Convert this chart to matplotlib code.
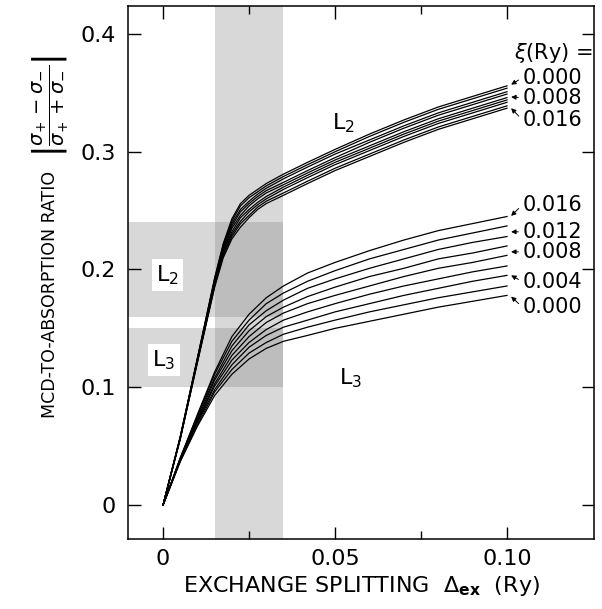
import matplotlib
matplotlib.use("Agg")
import matplotlib.pyplot as plt
from matplotlib.ticker import FixedLocator

# ---------------- data ----------------
xi_labels_L2 = ["0.000", "0.008", "0.016"]
xi_labels_L3 = ["0.016", "0.012", "0.008", "0.004", "0.000"]

x_L2 = [0, 0.005, 0.010, 0.015, 0.0175, 0.020, 0.0225, 0.025, 0.0275, 0.030, 0.035,
        0.042, 0.050, 0.060, 0.070, 0.080, 0.090, 0.100]
L2_xi000 = [0, 0.058, 0.125, 0.193, 0.222, 0.243, 0.256, 0.263, 0.268, 0.273, 0.281, 0.291, 0.302, 0.315, 0.327, 0.338, 0.347, 0.356]
L2_xi002 = [0, 0.058, 0.125, 0.192, 0.221, 0.241, 0.254, 0.261, 0.266, 0.271, 0.279, 0.289, 0.300, 0.313, 0.325, 0.336, 0.345, 0.354]
L2_xi004 = [0, 0.058, 0.124, 0.191, 0.219, 0.239, 0.251, 0.258, 0.264, 0.269, 0.277, 0.287, 0.298, 0.310, 0.322, 0.333, 0.342, 0.351]
L2_xi006 = [0, 0.057, 0.124, 0.190, 0.218, 0.237, 0.249, 0.256, 0.262, 0.267, 0.274, 0.284, 0.295, 0.308, 0.320, 0.331, 0.340, 0.349]
L2_xi008 = [0, 0.057, 0.123, 0.189, 0.216, 0.235, 0.246, 0.254, 0.260, 0.265, 0.272, 0.282, 0.293, 0.305, 0.317, 0.328, 0.337, 0.346]
L2_xi010 = [0, 0.057, 0.123, 0.188, 0.215, 0.232, 0.244, 0.251, 0.257, 0.262, 0.270, 0.280, 0.291, 0.303, 0.315, 0.326, 0.335, 0.344]
L2_xi012 = [0, 0.057, 0.122, 0.187, 0.213, 0.230, 0.241, 0.249, 0.255, 0.260, 0.268, 0.278, 0.289, 0.301, 0.313, 0.324, 0.333, 0.342]
L2_xi014 = [0, 0.056, 0.122, 0.186, 0.212, 0.228, 0.239, 0.246, 0.253, 0.258, 0.265, 0.275, 0.286, 0.298, 0.310, 0.321, 0.330, 0.339]
L2_xi016 = [0, 0.056, 0.121, 0.185, 0.210, 0.226, 0.236, 0.244, 0.251, 0.256, 0.263, 0.273, 0.284, 0.296, 0.308, 0.319, 0.328, 0.337]

x_L3 = [0, 0.005, 0.010, 0.015, 0.020, 0.025, 0.030, 0.035, 0.042, 0.050,
        0.060, 0.070, 0.080, 0.090, 0.100]
L3_xi000 = [0, 0.037, 0.067, 0.093, 0.111, 0.124, 0.133, 0.139, 0.144, 0.150, 0.156, 0.162, 0.168, 0.173, 0.178]
L3_xi002 = [0, 0.037, 0.068, 0.096, 0.115, 0.129, 0.138, 0.145, 0.151, 0.157, 0.164, 0.170, 0.176, 0.181, 0.186]
L3_xi004 = [0, 0.038, 0.070, 0.098, 0.119, 0.134, 0.144, 0.151, 0.157, 0.164, 0.171, 0.178, 0.184, 0.190, 0.195]
L3_xi006 = [0, 0.038, 0.071, 0.101, 0.123, 0.138, 0.149, 0.157, 0.164, 0.171, 0.179, 0.186, 0.192, 0.198, 0.203]
L3_xi008 = [0, 0.039, 0.072, 0.103, 0.127, 0.143, 0.155, 0.163, 0.171, 0.178, 0.186, 0.194, 0.201, 0.206, 0.212]
L3_xi010 = [0, 0.039, 0.073, 0.106, 0.131, 0.148, 0.160, 0.168, 0.177, 0.185, 0.194, 0.201, 0.209, 0.214, 0.220]
L3_xi012 = [0, 0.039, 0.075, 0.108, 0.135, 0.153, 0.165, 0.174, 0.184, 0.192, 0.201, 0.209, 0.217, 0.223, 0.228]
L3_xi014 = [0, 0.040, 0.076, 0.111, 0.139, 0.157, 0.171, 0.180, 0.190, 0.199, 0.209, 0.217, 0.225, 0.231, 0.237]
L3_xi016 = [0, 0.040, 0.077, 0.113, 0.143, 0.162, 0.176, 0.186, 0.197, 0.206, 0.216, 0.225, 0.233, 0.239, 0.245]

L2_series = [L2_xi000, L2_xi002, L2_xi004, L2_xi006, L2_xi008, L2_xi010, L2_xi012, L2_xi014, L2_xi016]
L3_series = [L3_xi000, L3_xi002, L3_xi004, L3_xi006, L3_xi008, L3_xi010, L3_xi012, L3_xi014, L3_xi016]

x_ticks = [0, 0.05, 0.10]
x_tick_labels = ["0", "0.05", "0.10"]
y_ticks = [0, 0.1, 0.2, 0.3, 0.4]
y_tick_labels = ["0", "0.1", "0.2", "0.3", "0.4"]

# shaded ranges
band_x = (0.015, 0.035)
band_L2 = (0.16, 0.24)
band_L3 = (0.10, 0.15)

# ---------------- figure ----------------
plt.rcParams['font.family'] = ['DejaVu Sans']
fig = plt.figure(figsize=(6.02, 6.09), dpi=100)
ax = fig.add_axes([128/602, 70/609, (594-128)/602, (603-70)/609])
xmin, xmax = -0.0102, 0.1253
ymin, ymax = -0.0289, 0.4238
ax.set_xlim(xmin, xmax)
ax.set_ylim(ymin, ymax)

shade = (0.5, 0.5, 0.5)
ax.axvspan(band_x[0], band_x[1], color=shade, alpha=0.3, lw=0, zorder=0)
ax.fill_between([xmin, band_x[1]], band_L2[0], band_L2[1], color=shade, alpha=0.3, lw=0, zorder=0)
ax.fill_between([xmin, band_x[1]], band_L3[0], band_L3[1], color=shade, alpha=0.3, lw=0, zorder=0)

for ys in L2_series:
    ax.plot(x_L2, ys, color='black', lw=0.9, zorder=3)
for ys in L3_series:
    ax.plot(x_L3, ys, color='black', lw=0.9, zorder=3)

# labels inside bands
box = dict(facecolor='white', edgecolor='none', pad=3)
ax.text(0.0012, 0.195, r"L$_2$", fontsize=16, ha='center', va='center', bbox=box, zorder=4)
ax.text(0.0002, 0.123, r"L$_3$", fontsize=16, ha='center', va='center', bbox=box, zorder=4)
ax.text(0.0523, 0.324, r"L$_2$", fontsize=16, ha='center', va='center', zorder=4)
ax.text(0.0544, 0.108, r"L$_3$", fontsize=16, ha='center', va='center', zorder=4)

ax.text(0.1135, 0.384, r"$\xi$(Ry) =", fontsize=15, ha='center', va='center')

arrow = dict(arrowstyle='-|>', color='black', lw=0.7, mutation_scale=7, shrinkA=1, shrinkB=0)
txt_x = 0.1045
L2_text_y = [0.363, 0.346, 0.327]
L2_tip_y = [0.357, 0.3465, 0.337]
for lab, ty, tip in zip(xi_labels_L2, L2_text_y, L2_tip_y):
    ax.annotate(lab, xy=(0.1012, tip), xytext=(txt_x, ty), fontsize=15,
                ha='left', va='center', arrowprops=dict(arrow, relpos=(0, 0.5)))
L3_text_y = [0.255, 0.232, 0.215, 0.1897, 0.168]
L3_tip_y = [0.2455, 0.232, 0.215, 0.195, 0.177]
for lab, ty, tip in zip(xi_labels_L3, L3_text_y, L3_tip_y):
    ax.annotate(lab, xy=(0.1012, tip), xytext=(txt_x, ty), fontsize=15,
                ha='left', va='center', arrowprops=dict(arrow, relpos=(0, 0.5)))

# ticks
ax.xaxis.set_major_locator(FixedLocator(x_ticks))
ax.set_xticklabels(x_tick_labels)
ax.xaxis.set_minor_locator(FixedLocator([0.025, 0.075]))
ax.yaxis.set_major_locator(FixedLocator(y_ticks))
ax.set_yticklabels(y_tick_labels)
ax.tick_params(axis='both', which='both', direction='in', top=True, right=True,
               labelsize=16, width=1.0)
ax.tick_params(axis='x', which='major', length=9, pad=7)
ax.tick_params(axis='x', which='minor', length=6)
ax.tick_params(axis='y', which='major', length=9, pad=9)
for s in ax.spines.values():
    s.set_linewidth(1.1)

ax.set_xlabel(r"EXCHANGE SPLITTING  $\Delta_{\mathbf{ex}}$  (Ry)", fontsize=16, labelpad=4)

fig.text(50/602, 1 - 294/609, "MCD-TO-ABSORPTION RATIO", rotation=90, fontsize=12.5,
         ha='center', va='center')
fig.text(50/602, 1 - 106/609,
         r"$\left|\dfrac{\sigma_{\!+} - \sigma_{\!-}}{\sigma_{\!+} + \sigma_{\!-}}\right|$",
         rotation=90, fontsize=14, ha='center', va='center')

fig.savefig("out.png", dpi=100)
